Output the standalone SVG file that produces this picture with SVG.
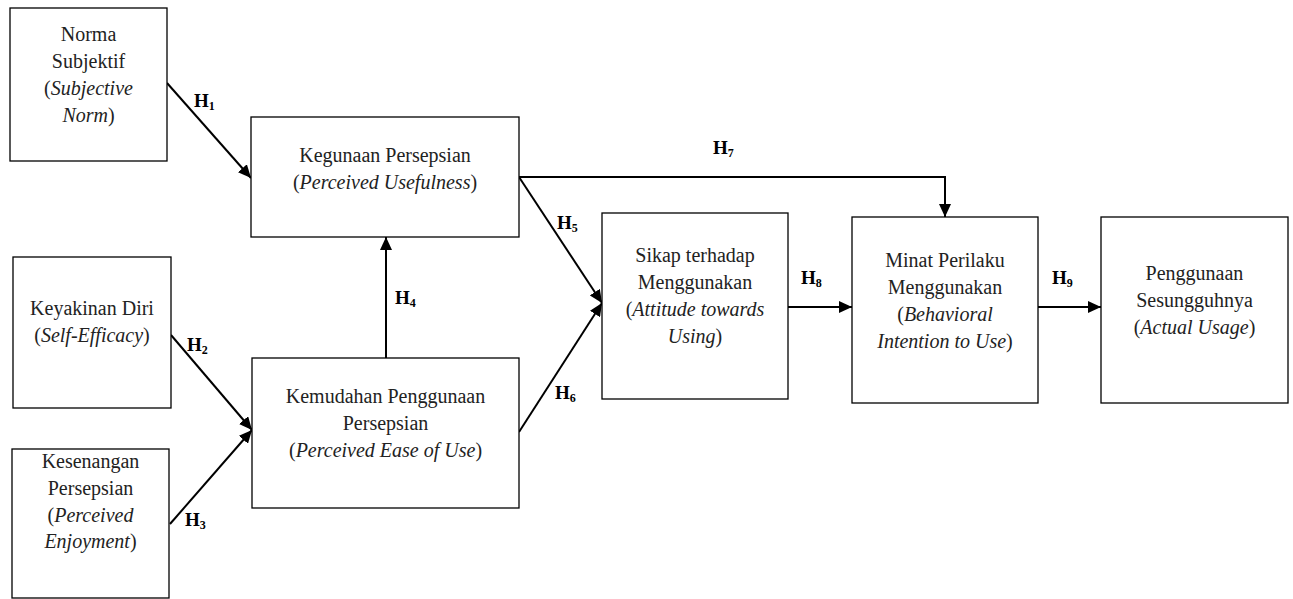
<svg xmlns="http://www.w3.org/2000/svg" width="1293" height="599" viewBox="0 0 1293 599">
<style>
.box{fill:#fff;stroke:#000;stroke-width:1.3}
.t{font-family:"Liberation Serif","Times New Roman",serif;font-size:20px;fill:#222;text-anchor:middle}
.i{font-style:italic}
.c{stroke:#000;stroke-width:2;fill:none}
.h{font-family:"Liberation Serif","Times New Roman",serif;font-size:19px;font-weight:bold;fill:#000}
.s{font-size:12px}
</style>
<defs>
<marker id="ah" markerUnits="userSpaceOnUse" markerWidth="14" markerHeight="12" refX="13" refY="6" orient="auto">
<path d="M0,0 L13,6 L0,12 Z" fill="#000"/>
</marker>
</defs>
<rect width="1293" height="599" fill="#fff"/>
<g id="connectors">
<line class="c" x1="167" y1="83" x2="251" y2="178" marker-end="url(#ah)"/>
<line class="c" x1="171" y1="335" x2="252" y2="430" marker-end="url(#ah)"/>
<line class="c" x1="170" y1="524" x2="252" y2="430" marker-end="url(#ah)"/>
<line class="c" x1="386" y1="358" x2="386" y2="237" marker-end="url(#ah)"/>
<line class="c" x1="519" y1="177" x2="602" y2="303" marker-end="url(#ah)"/>
<line class="c" x1="519" y1="432" x2="602" y2="303" marker-end="url(#ah)"/>
<polyline class="c" points="519,177 945,177 945,217" marker-end="url(#ah)"/>
<line class="c" x1="788" y1="307" x2="852" y2="307" marker-end="url(#ah)"/>
<line class="c" x1="1038" y1="307" x2="1101" y2="307" marker-end="url(#ah)"/>
<text class="h" x="194" y="107">H<tspan class="s" dy="3">1</tspan></text>
<text class="h" x="187" y="351">H<tspan class="s" dy="3">2</tspan></text>
<text class="h" x="185" y="526">H<tspan class="s" dy="3">3</tspan></text>
<text class="h" x="395" y="304">H<tspan class="s" dy="3">4</tspan></text>
<text class="h" x="557" y="229">H<tspan class="s" dy="3">5</tspan></text>
<text class="h" x="555" y="399">H<tspan class="s" dy="3">6</tspan></text>
<text class="h" x="713" y="154">H<tspan class="s" dy="3">7</tspan></text>
<text class="h" x="801" y="284">H<tspan class="s" dy="3">8</tspan></text>
<text class="h" x="1052" y="284">H<tspan class="s" dy="3">9</tspan></text>
</g>
<g id="norma">
<rect class="box" x="10" y="8" width="157" height="153"/>
<text class="t" x="88.5" y="41">Norma</text>
<text class="t" x="88.5" y="68">Subjektif</text>
<text class="t" x="88.5" y="95">(<tspan class="i">Subjective</tspan></text>
<text class="t" x="88.5" y="122"><tspan class="i">Norm</tspan>)</text>
</g>
<g id="kegunaan">
<rect class="box" x="251" y="117" width="268" height="120"/>
<text class="t" x="385" y="162">Kegunaan Persepsian</text>
<text class="t" x="385" y="189">(<tspan class="i">Perceived Usefulness</tspan>)</text>
</g>
<g id="keyakinan">
<rect class="box" x="13" y="257" width="158" height="151"/>
<text class="t" x="92" y="315">Keyakinan Diri</text>
<text class="t" x="92" y="342">(<tspan class="i">Self-Efficacy</tspan>)</text>
</g>
<g id="kesenangan">
<rect class="box" x="12" y="449" width="157" height="149"/>
<text class="t" x="90.5" y="468">Kesenangan</text>
<text class="t" x="90.5" y="495">Persepsian</text>
<text class="t" x="90.5" y="522">(<tspan class="i">Perceived</tspan></text>
<text class="t" x="90.5" y="548"><tspan class="i">Enjoyment</tspan>)</text>
</g>
<g id="kemudahan">
<rect class="box" x="252" y="358" width="267" height="150"/>
<text class="t" x="385.5" y="403">Kemudahan Penggunaan</text>
<text class="t" x="385.5" y="430">Persepsian</text>
<text class="t" x="385.5" y="457">(<tspan class="i">Perceived Ease of Use</tspan>)</text>
</g>
<g id="sikap">
<rect class="box" x="602" y="213" width="186" height="186"/>
<text class="t" x="695" y="262">Sikap terhadap</text>
<text class="t" x="695" y="289">Menggunakan</text>
<text class="t" x="695" y="316">(<tspan class="i">Attitude towards</tspan></text>
<text class="t" x="695" y="343"><tspan class="i">Using</tspan>)</text>
</g>
<g id="minat">
<rect class="box" x="852" y="217" width="186" height="186"/>
<text class="t" x="945" y="267">Minat Perilaku</text>
<text class="t" x="945" y="294">Menggunakan</text>
<text class="t" x="945" y="321">(<tspan class="i">Behavioral</tspan></text>
<text class="t" x="945" y="348"><tspan class="i">Intention to Use</tspan>)</text>
</g>
<g id="penggunaan">
<rect class="box" x="1101" y="217" width="187" height="186"/>
<text class="t" x="1194.5" y="280">Penggunaan</text>
<text class="t" x="1194.5" y="307">Sesungguhnya</text>
<text class="t" x="1194.5" y="334">(<tspan class="i">Actual Usage</tspan>)</text>
</g>
</svg>
